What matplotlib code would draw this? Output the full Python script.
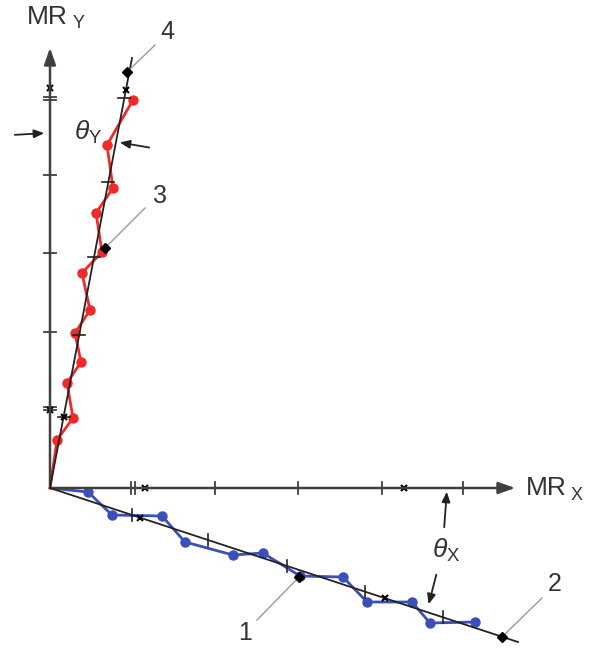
import matplotlib
matplotlib.use('Agg')
import matplotlib.pyplot as plt
import numpy as np

plt.rcParams['font.family'] = ['Liberation Sans', 'DejaVu Sans']
plt.rcParams['mathtext.fontset'] = 'custom'
plt.rcParams['mathtext.it'] = 'Liberation Sans:italic'
plt.rcParams['mathtext.rm'] = 'Liberation Sans'

# picture coordinates (pixels, y downwards)
origin = (50, 488)
x_axis_end = 518
y_axis_end = 45
x_ticks = [135, 215, 298, 382, 463]
x_axis_marks = [145, 404]
y_ticks = [97, 175, 253, 332, 410]
y_axis_marks = [88, 410]

# fitted lines
fit_x_end = (518, 642)
fit_y_end = (132, 58)
fit_x_ticks = [132, 208, 287, 365, 443]
fit_x_marks = [140, 385]
fit_y_ticks = [98, 182, 257, 335, 417]
fit_y_marks = [90, 417]

# measured points
blue_x = [50, 88, 112, 162, 185, 233, 263, 300, 343, 367, 412, 430, 475]
blue_y = [488, 492, 515, 516, 542, 555, 553, 576, 577, 602, 602, 623, 622]
red_x = [50, 57, 73, 67, 81, 75, 90, 82, 102, 96, 113, 107, 133]
red_y = [488, 440, 418, 383, 362, 333, 310, 273, 252, 213, 188, 145, 100]

# numbered points and their labels
pt_x = [299, 502, 105, 127]
pt_y = [577, 637, 248, 72]
lab_x = [245, 555, 160, 167]
lab_y = [633, 584, 196, 32]
lead_x = [257, 542, 145, 155]
lead_y = [620, 598, 208, 45]
names = ['1', '2', '3', '4']

fig = plt.figure(figsize=(5.9, 6.48), dpi=100)
ax = fig.add_axes([0, 0, 1, 1])
ax.set_xlim(0, 590)
ax.set_ylim(648, 0)
ax.axis('off')

axc = '#404040'
txt = '#333333'
ox, oy = origin

# axes with arrows
ax.annotate('', xy=(x_axis_end, oy), xytext=(ox, oy),
            arrowprops=dict(arrowstyle='-|>,head_length=1.0,head_width=0.35', color=axc, lw=1.8))
ax.annotate('', xy=(ox, y_axis_end), xytext=(ox, oy),
            arrowprops=dict(arrowstyle='-|>,head_length=1.0,head_width=0.35', color=axc, lw=1.8))
for t in x_ticks:
    ax.plot([t, t], [oy - 6, oy + 6], color=axc, lw=1.3)
ax.plot([x_ticks[0] - 4] * 2, [oy - 6, oy + 6], color=axc, lw=1.3)
for t in x_axis_marks:
    ax.plot(t, oy, marker='x', color='black', ms=4, mew=1.5)
for t in y_ticks:
    ax.plot([ox - 6, ox + 6], [t, t], color=axc, lw=1.3)
ax.plot([ox - 6, ox + 6], [y_ticks[0] + 3] * 2, color=axc, lw=1.3)
ax.plot([ox - 6, ox + 6], [y_ticks[-1] - 3] * 2, color=axc, lw=1.3)
for t in y_axis_marks:
    ax.plot(ox, t, marker='x', color='black', ms=4, mew=1.5)

ax.text(526, 488, 'MR', fontsize=19, color=txt, va='center', ha='left')
ax.text(571, 496, 'X', fontsize=13, color=txt, va='center', ha='left')
ax.text(27, 17, 'MR', fontsize=19, color=txt, va='center', ha='left')
ax.text(73, 23, 'Y', fontsize=13, color=txt, va='center', ha='left')

# fitted lines
ax.plot([ox, fit_x_end[0]], [oy, fit_x_end[1]], color='#222222', lw=1.3, zorder=3)
ax.plot([ox, fit_y_end[0]], [oy, fit_y_end[1]], color='#222222', lw=1.3, zorder=3)
sx = (fit_x_end[1] - oy) / (fit_x_end[0] - ox)
for t in fit_x_ticks:
    yy = oy + sx * (t - ox)
    ax.plot([t, t], [yy - 6, yy + 6], color='#222222', lw=1.2, zorder=3)
for t in fit_x_marks:
    ax.plot(t, oy + sx * (t - ox), marker='x', color='black', ms=4, mew=1.5, zorder=4)
sy = (fit_y_end[0] - ox) / (fit_y_end[1] - oy)
for t in fit_y_ticks:
    xx = ox + sy * (t - oy)
    ax.plot([xx - 6, xx + 6], [t, t], color='#222222', lw=1.2, zorder=3)
for t in fit_y_marks:
    ax.plot(ox + sy * (t - oy), t, marker='x', color='black', ms=4, mew=1.5, zorder=4)

# measured paths
ax.plot(blue_x, blue_y, color='#3b4fb8', lw=2, zorder=2)
ax.plot(blue_x[1:], blue_y[1:], 'o', color='#3b4fb8', ms=6.5, zorder=2)
ax.plot(red_x, red_y, color='#f02a2a', lw=2, zorder=2)
ax.plot(red_x[1:], red_y[1:], 'o', color='#f02a2a', ms=6.5, zorder=2)

# numbered points
ax.plot(pt_x, pt_y, 'D', color='black', ms=5, zorder=5)
for i in range(len(names)):
    ax.plot([lead_x[i], pt_x[i]], [lead_y[i], pt_y[i]], color='#9a9a9a', lw=1, zorder=4)
    ax.text(lab_x[i], lab_y[i], names[i], fontsize=18, color=txt, ha='center', va='center')

# angles
ap = dict(arrowstyle='-|>,head_length=0.6,head_width=0.25', color='#222222', lw=1.3)
ax.annotate('', xy=(47, 133), xytext=(12, 135), arrowprops=ap)
ax.annotate('', xy=(117, 142), xytext=(152, 148), arrowprops=ap)
ax.text(88, 132, r'$\theta_{\mathrm{Y}}$', fontsize=19, color=txt, ha='center', va='center')
ax.annotate('', xy=(447, 489), xytext=(444, 530), arrowprops=ap)
ax.annotate('', xy=(428, 607), xytext=(437, 572), arrowprops=ap)
ax.text(446, 550, r'$\theta_{\mathrm{X}}$', fontsize=19, color=txt, ha='center', va='center')

fig.savefig('out.png', dpi=100)
